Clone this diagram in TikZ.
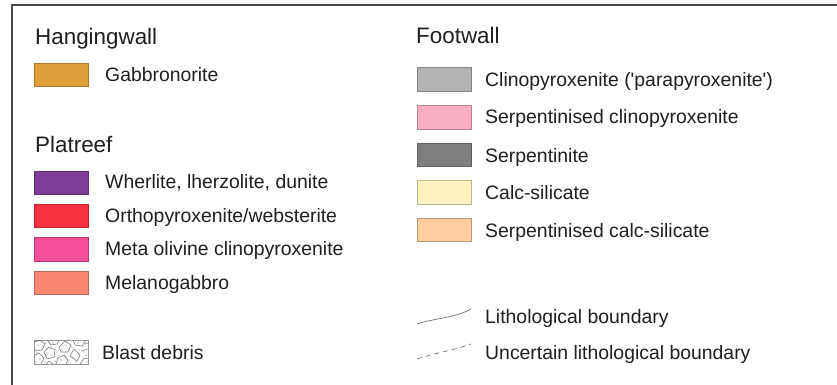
\documentclass[tikz,border=0pt]{standalone}
\usepackage{fontspec}
\newfontfamily\lib{Liberation Sans}
\begin{document}
\begin{tikzpicture}[x=1pt,y=-1pt,
  heading/.style={anchor=base west,inner sep=0pt,text=black!88,font=\lib\fontsize{22.4}{24}\selectfont},
  item/.style={anchor=base west,inner sep=0pt,text=black!88,font=\lib\fontsize{19.4}{21}\selectfont},
  swatch/.style={draw=#1!75!black,fill=#1,line width=0.8pt,minimum width=54pt,minimum height=23.5pt,inner sep=0pt,anchor=north west},
  frameline/.style={draw=black!72,line width=1.6pt},
  boundary/.style={draw=black!55,line width=0.7pt}]
\definecolor{cGab}{HTML}{DE9E3A}
\definecolor{cWher}{HTML}{7E3D97}
\definecolor{cOrtho}{HTML}{F5323F}
\definecolor{cMeta}{HTML}{F24F98}
\definecolor{cMelano}{HTML}{F78773}
\definecolor{cClino}{HTML}{B3B3B3}
\definecolor{cSerpClino}{HTML}{F9AFC3}
\definecolor{cSerp}{HTML}{7F7F7F}
\definecolor{cCalc}{HTML}{FFF2BE}
\definecolor{cSerpCalc}{HTML}{FDCEA0}
\useasboundingbox (0,0) rectangle (837,385);
\fill[white] (0,0) rectangle (837,385);
% frame
\coordinate (fTL) at (12,5);
\coordinate (fTR) at (837,5);
\coordinate (fBL) at (12,385);
\draw[frameline] (fBL) -- (fTL) -- (fTR);

% Hangingwall
\node[heading] (hw) at (35,45) {Hangingwall};
\node[swatch=cGab] (sGab) at (34,63) {};
\node[item] (tGab) at (105,82) {Gabbronorite};

% Platreef
\node[heading] (pr) at (35,152) {Platreef};
\node[swatch=cWher] (sWher) at (34,170.5) {};
\node[item] (tWher) at (105,188) {Wherlite, lherzolite, dunite};
\node[swatch=cOrtho] (sOrtho) at (34,203.5) {};
\node[item] (tOrtho) at (105,222) {Orthopyroxenite/websterite};
\node[swatch=cMeta] (sMeta) at (34,237) {};
\node[item] (tMeta) at (105,255.5) {Meta olivine clinopyroxenite};
\node[swatch=cMelano] (sMelano) at (34,270.5) {};
\node[item] (tMelano) at (105,289) {Melanogabbro};

% Blast debris
\node[draw=black!40,line width=0.6pt,minimum width=54pt,minimum height=24pt,inner sep=0pt,anchor=north west] (sBlast) at (34,340) {};
\begin{scope}
\clip (34,340) rectangle (88,364);
\draw[black!55,line width=0.55pt,line join=round]
  (34,342) -- (40,340.5) -- (45,344) -- (42,350) -- (36,351) -- (34,348)
  (38,340) -- (40,340.5)
  (44,352) -- (49,347) -- (55,350) -- (54,357) -- (47,359) -- cycle
  (47,340) -- (51,345) -- (57,344) -- (59,340)
  (59,347) -- (65,341) -- (71,345) -- (68,352) -- (61,352) -- cycle
  (70,356) -- (74,349) -- (80,355) -- (77,361) -- cycle
  (73,340) -- (75,345) -- (82,346) -- (86,340)
  (34,356) -- (39,353) -- (44,358) -- (41,364)
  (56,364) -- (58,358) -- (64,355) -- (68,360) -- (66,364)
  (81,351) -- (88,349)
  (80,364) -- (84,358) -- (88,359)
  (85,344) -- (88,343)
  (46,364) -- (49,361) -- (53,364);
\foreach \p in {(46,343),(43,346),(57,352),(58,355),(38,345),(37,353),(69,349),(72,347),(79,350),(65,357),(55,361),(48,353),(42,349),(62,349),(84,352),(76,362),(51,355),(86,355),(40,359),(69,362),(53,343),(66,345),(78,343),(36,362),(45,362),(61,360),(73,358),(87,362),(50,349),(83,347)}
  \fill[black!50] \p circle (0.55pt);
\end{scope}
\node[item] (tBlast) at (102,359) {Blast debris};

% Footwall
\node[heading] (fw) at (416,44) {Footwall};
\node[swatch=cClino] (sClino) at (417,67.5) {};
\node[item] (tClino) at (485,87) {Clinopyroxenite ('parapyroxenite')};
\node[swatch=cSerpClino] (sSerpClino) at (417,105) {};
\node[item] (tSerpClino) at (485,124) {Serpentinised clinopyroxenite};
\node[swatch=cSerp] (sSerp) at (417,142.5) {};
\node[item] (tSerp) at (485,162) {Serpentinite};
\node[swatch=cCalc] (sCalc) at (417,180) {};
\node[item] (tCalc) at (485,199.5) {Calc-silicate};
\node[swatch=cSerpCalc] (sSerpCalc) at (417,217.5) {};
\node[item] (tSerpCalc) at (485,237) {Serpentinised calc-silicate};

% Boundaries
\coordinate (lA) at (417,324);
\coordinate (lB) at (471,309);
\draw[boundary] (lA) .. controls (435,318) and (455,318) .. (lB);
\node[item] (tLith) at (485,323) {Lithological boundary};
\coordinate (uA) at (417,359);
\coordinate (uB) at (471,344);
\draw[boundary,dash pattern=on 5pt off 4pt] (uA) .. controls (435,353) and (455,350) .. (uB);
\node[item] (tUnc) at (485,359) {Uncertain lithological boundary};
\end{tikzpicture}
\end{document}
